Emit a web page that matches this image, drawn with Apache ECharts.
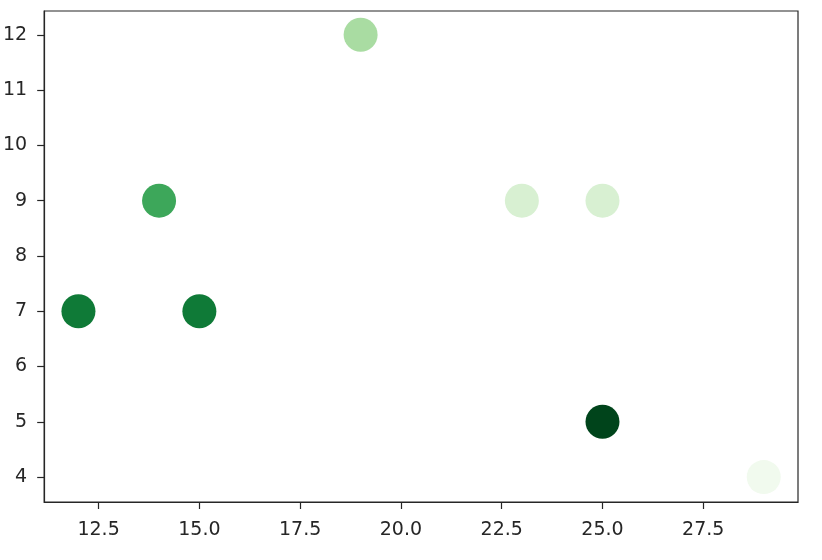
<!DOCTYPE html>
<html>
<head>
<meta charset="utf-8">
<script src="https://cdn.jsdelivr.net/npm/echarts@6/dist/echarts.min.js"></script>
<style>html,body{margin:0;padding:0;background:#fff}#c{width:822px;height:560px}</style>
</head>
<body>
<div id="c"></div>
<script>
const xValues = [12, 14, 15, 19, 23, 25, 25, 29];
const yValues = [7, 9, 7, 12, 9, 9, 5, 4];
const colorValues = [0.82, 0.64, 0.82, 0.35, 0.18, 0.18, 1.0, 0.04];
const xTicks = [12.5, 15.0, 17.5, 20.0, 22.5, 25.0, 27.5];
const yTicks = [4, 5, 6, 7, 8, 9, 10, 11, 12];

const data = xValues.map((x, i) => [x, yValues[i], colorValues[i]]);
const chart = echarts.init(document.getElementById('c'), null, {renderer: 'canvas'});
const axisFont = {fontFamily: 'DejaVu Sans', fontSize: 19, color: '#262626'};
chart.setOption({
  animation: false,
  backgroundColor: '#ffffff',
  grid: {left: 44, right: 24, top: 11, bottom: 58, show: true, borderColor: '#262626', borderWidth: 1.2},
  xAxis: {
    type: 'value', min: 11.15, max: 29.85,
    splitLine: {show: false},
    axisLine: {show: true, onZero: false, lineStyle: {color: '#262626', width: 1.2}},
    axisTick: {show: true, inside: false, length: 7, customValues: xTicks, lineStyle: {color: '#262626', width: 1.2}},
    axisLabel: Object.assign({customValues: xTicks, margin: 19, formatter: v => v.toFixed(1)}, axisFont)
  },
  yAxis: {
    type: 'value', min: 3.55, max: 12.43,
    splitLine: {show: false},
    axisLine: {show: true, onZero: false, lineStyle: {color: '#262626', width: 1.2}},
    axisTick: {show: true, inside: false, length: 7, customValues: yTicks, lineStyle: {color: '#262626', width: 1.2}},
    axisLabel: Object.assign({customValues: yTicks, margin: 17, formatter: v => String(v)}, axisFont)
  },
  visualMap: {
    show: false, dimension: 2, min: 0, max: 1, seriesIndex: 0,
    inRange: {color: ['#f7fcf5','#e5f5e0','#c7e9c0','#a1d99b','#74c476','#41ab5d','#238b45','#006d2c','#00441b']}
  },
  series: [{
    type: 'scatter', data: data, symbolSize: 34,
    itemStyle: {opacity: 1}
  }]
});
</script>
</body>
</html>
